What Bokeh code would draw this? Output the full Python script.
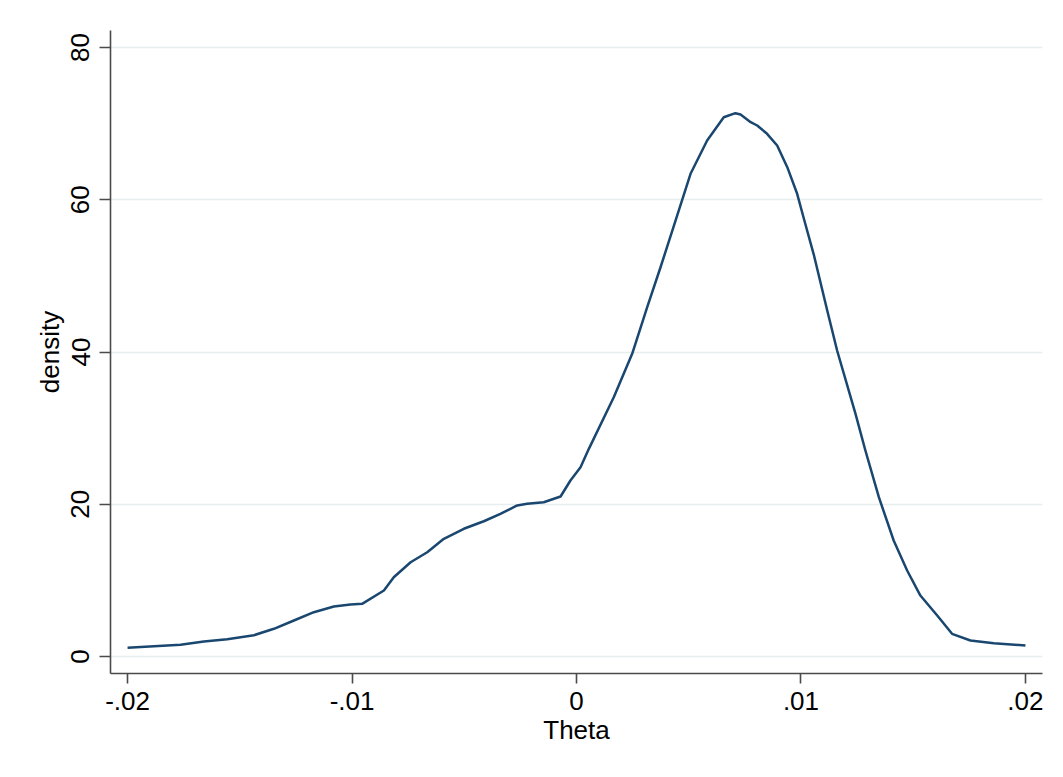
from bokeh.plotting import figure
from bokeh.models import Range1d, FixedTicker
from bokeh.embed import file_html
from bokeh.resources import INLINE

theta = [-0.0200, -0.01764, -0.0166, -0.01556, -0.01437, -0.01348, -0.01259, -0.01170,
         -0.01081, -0.01007, -0.00955, -0.00858, -0.00814, -0.00739, -0.00665, -0.00591,
         -0.00502, -0.00413, -0.00339, -0.00264, -0.00220, -0.00146, -0.00071, -0.00027,
         0.00018, 0.00055, 0.00166, 0.00248, 0.00315, 0.00374, 0.00433, 0.00508,
         0.00582, 0.00656, 0.00708, 0.00731, 0.00776, 0.00805, 0.00849, 0.00894,
         0.00939, 0.00983, 0.01013, 0.01057, 0.01117, 0.01161, 0.01243, 0.01287,
         0.01347, 0.01413, 0.01473, 0.01532, 0.01607, 0.01673, 0.01755, 0.01859, 0.02000]
density = [1.14, 1.54, 1.97, 2.27, 2.80, 3.64, 4.73, 5.82,
           6.57, 6.83, 6.92, 8.67, 10.42, 12.39, 13.70, 15.46,
           16.78, 17.77, 18.75, 19.84, 20.06, 20.27, 21.02, 23.12,
           24.87, 27.28, 34.06, 39.76, 45.89, 51.10, 56.50, 63.41,
           67.78, 70.84, 71.37, 71.20, 70.19, 69.75, 68.66, 67.13,
           64.28, 60.78, 57.50, 52.80, 45.45, 40.20, 31.88, 27.06,
           20.93, 15.24, 11.30, 8.01, 5.39, 2.98, 2.10, 1.75, 1.44]

x_ticks = [-0.02, -0.01, 0.0, 0.01, 0.02]
x_tick_labels = ["-.02", "-.01", "0", ".01", ".02"]
y_ticks = [0, 20, 40, 60, 80]

FONT = "Liberation Sans"

p = figure(width=1055, height=769, output_backend="svg", toolbar_location=None,
           x_range=Range1d(-0.02076, 0.02076), y_range=Range1d(-2.23, 82.23),
           min_border_left=110, min_border_right=13, min_border_top=30, min_border_bottom=96)
p.outline_line_color = None
p.background_fill_color = "white"
p.border_fill_color = "white"

p.line(theta, density, line_color="#1a476f", line_width=2.5, line_join="round")

AX = "#4a4a4a"
for ax in (p.xaxis[0], p.yaxis[0]):
    ax.axis_line_color = AX
    ax.axis_line_width = 1.6
    ax.major_tick_line_color = AX
    ax.major_tick_line_width = 1.6
    ax.minor_tick_line_color = None
    ax.major_tick_in = 0
    ax.major_label_text_font = FONT
    ax.major_label_text_font_size = "26px"
    ax.major_label_text_color = "black"
    ax.axis_label_text_font = FONT
    ax.axis_label_text_font_size = "26px"
    ax.axis_label_text_font_style = "normal"
    ax.axis_label_text_color = "black"

p.xaxis.ticker = FixedTicker(ticks=x_ticks)
p.xaxis.major_label_overrides = {t: l for t, l in zip(x_ticks, x_tick_labels)}
p.xaxis.major_tick_out = 10
p.xaxis.major_label_standoff = 8
p.xaxis.axis_label = "Theta"
p.xaxis.axis_label_standoff = 2

p.yaxis.ticker = FixedTicker(ticks=y_ticks)
p.yaxis.major_tick_out = 11
p.yaxis.major_label_orientation = "vertical"
p.yaxis.major_label_standoff = 10
p.yaxis.axis_label = "density"
p.yaxis.axis_label_standoff = 4

p.xgrid.grid_line_color = None
p.ygrid.grid_line_color = "#e6eeef"
p.ygrid.grid_line_width = 1.6

open("out.html", "w").write(file_html(p, INLINE))
